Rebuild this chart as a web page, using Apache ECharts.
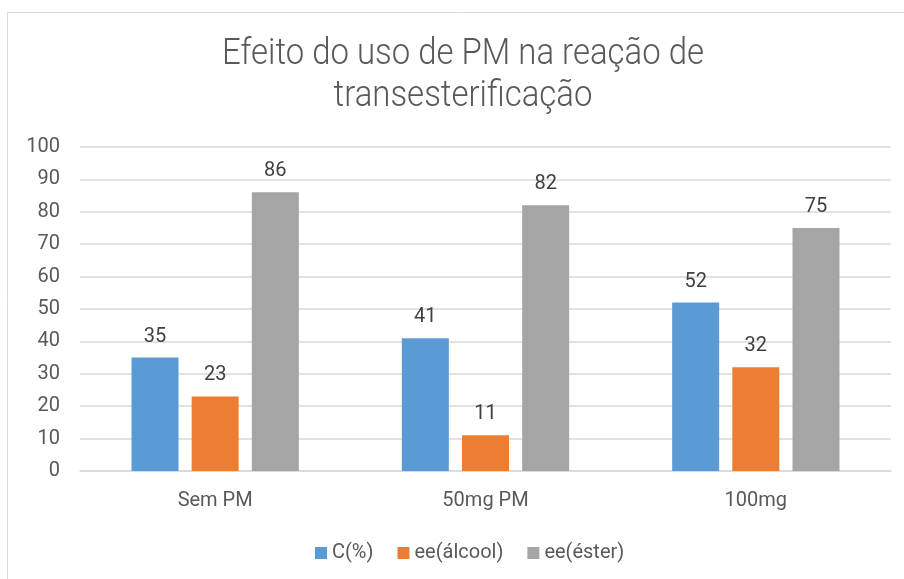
<!DOCTYPE html>
<html>
<head>
<meta charset="utf-8">
<script src="https://cdn.jsdelivr.net/npm/echarts@6/dist/echarts.min.js"></script>
<style>
  html, body { margin: 0; padding: 0; background: #fff; }
  #chart { width: 904px; height: 579px; }
</style>
</head>
<body>
<div id="chart"></div>
<script>
// Categories and series values
const categories = ['Sem PM', '50mg PM', '100mg'];
const seriesNames = ['C(%)', 'ee(álcool)', 'ee(éster)'];
const conversion = [35, 41, 52];
const eeAlcohol = [23, 11, 32];
const eeEster = [86, 82, 75];
const colors = ['#5B9BD5', '#ED7D31', '#A5A5A5'];
const titleLines = ['Efeito do uso de PM na reação de', 'transesterificação'];

const textColor = '#595959';
const labelFont = 'Roboto, "Liberation Sans", sans-serif';

const chart = echarts.init(document.getElementById('chart'), null, { renderer: 'canvas' });

function barSeries(name, data, color) {
  return {
    name: name,
    type: 'bar',
    data: data,
    barWidth: 47,
    barGap: '28%',
    itemStyle: { color: color },
    label: {
      show: true,
      position: 'top',
      distance: 11,
      color: '#404040',
      fontSize: 20,
      fontFamily: labelFont
    }
  };
}

// Condensed light title, drawn as two centred text lines
function titleText(line, baselineY) {
  return {
    type: 'text',
    x: 463,
    y: baselineY,
    scaleX: 0.89,
    silent: true,
    style: {
      text: line,
      fill: textColor,
      fontSize: 37,
      fontWeight: 300,
      fontFamily: 'Roboto, sans-serif',
      align: 'center',
      verticalAlign: 'bottom'
    }
  };
}

chart.setOption({
  animation: false,
  backgroundColor: '#ffffff',
  graphic: [
    {
      type: 'rect',
      shape: { x: 7.5, y: 12.5, width: 920, height: 600 },
      style: { fill: 'none', stroke: '#D9D9D9', lineWidth: 1 },
      silent: true
    },
    titleText(titleLines[0], 73),
    titleText(titleLines[1], 115)
  ],
  legend: {
    data: seriesNames,
    top: 538,
    left: 310,
    itemWidth: 12,
    itemHeight: 12,
    itemGap: 24,
    icon: 'rect',
    textStyle: { color: textColor, fontSize: 20, fontFamily: labelFont }
  },
  grid: { left: 80, right: 13, top: 147, bottom: 108, containLabel: false },
  xAxis: {
    type: 'category',
    data: categories,
    axisLine: { lineStyle: { color: '#D9D9D9', width: 1.5 } },
    axisTick: { show: false },
    axisLabel: { color: textColor, fontSize: 20, fontFamily: labelFont, margin: 20 }
  },
  yAxis: {
    type: 'value',
    min: 0,
    max: 100,
    interval: 10,
    axisLine: { show: false },
    axisTick: { show: false },
    splitLine: { lineStyle: { color: '#D9D9D9', width: 1.5 } },
    axisLabel: { color: textColor, fontSize: 20, fontFamily: labelFont, margin: 20 }
  },
  series: [
    barSeries(seriesNames[0], conversion, colors[0]),
    barSeries(seriesNames[1], eeAlcohol, colors[1]),
    barSeries(seriesNames[2], eeEster, colors[2])
  ]
});
</script>
</body>
</html>
